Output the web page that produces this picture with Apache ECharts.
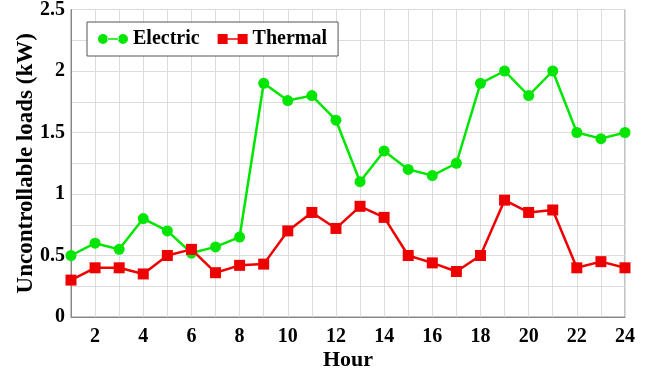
<!DOCTYPE html>
<html>
<head>
<meta charset="utf-8">
<script src="https://cdn.jsdelivr.net/npm/echarts@6/dist/echarts.min.js"></script>
<style>
html,body{margin:0;padding:0;background:#fff;}
#chart{width:659px;height:375px;}
</style>
</head>
<body>
<div id="chart"></div>
<script>
var hours=[1,2,3,4,5,6,7,8,9,10,11,12,13,14,15,16,17,18,19,20,21,22,23,24];
var electric=[0.5,0.6,0.55,0.8,0.7,0.52,0.57,0.65,1.9,1.76,1.8,1.6,1.1,1.35,1.2,1.15,1.25,1.9,2.0,1.8,2.0,1.5,1.45,1.5];
var thermal=[0.3,0.4,0.4,0.35,0.5,0.55,0.36,0.42,0.43,0.7,0.85,0.72,0.9,0.81,0.5,0.44,0.37,0.5,0.95,0.85,0.87,0.4,0.45,0.4];

var font="'Liberation Serif','Times New Roman',serif";
var green="#00e600";
var red="#ee0000";

// legend icons: marker - line - marker
var circIcon="path://M0,5a5,5 0 1,0 10,0a5,5 0 1,0 -10,0Z M9,4.2L21,4.2L21,5.8L9,5.8Z M20,5a5,5 0 1,0 10,0a5,5 0 1,0 -10,0Z";
var sqIcon="path://M0,0L10,0L10,10L0,10Z M9,4.2L21,4.2L21,5.8L9,5.8Z M20,0L30,0L30,10L20,10Z";

var chart=echarts.init(document.getElementById("chart"));
chart.setOption({
  animation:false,
  grid:{left:71,right:34,top:9.5,bottom:58,outerBoundsMode:"none",show:true,borderColor:"#888",borderWidth:1},
  legend:{
    left:87,top:22,
    padding:[7,11,7,11],
    borderColor:"#555",borderWidth:1,
    backgroundColor:"#fff",
    itemWidth:30,itemHeight:10,itemGap:18,
    textStyle:{fontFamily:font,fontWeight:"bold",fontSize:20,color:"#000"},
    data:[{name:"Electric",icon:circIcon},{name:"Thermal",icon:sqIcon}]
  },
  xAxis:{
    type:"value",min:1,max:24,interval:1,
    name:"Hour",nameLocation:"middle",nameGap:32,nameMoveOverlap:false,
    nameTextStyle:{fontFamily:font,fontWeight:"bold",fontSize:22,color:"#000"},
    axisLine:{lineStyle:{color:"#888"}},
    axisTick:{show:false},
    axisLabel:{
      fontFamily:font,fontWeight:"bold",fontSize:20,color:"#000",margin:10,
      formatter:function(v){return v%2===0?String(v):"";}
    },
    splitLine:{lineStyle:{color:"#dcdcdc"}}
  },
  yAxis:{
    type:"value",min:0,max:2.5,interval:0.25,
    name:"Uncontrollable loads (kW)",nameLocation:"middle",nameGap:33,nameMoveOverlap:false,
    nameTextStyle:{fontFamily:font,fontWeight:"bold",fontSize:23,color:"#000"},
    axisLine:{show:true,lineStyle:{color:"#888"}},
    axisTick:{show:false},
    axisLabel:{
      fontFamily:font,fontWeight:"bold",fontSize:20,color:"#000",margin:6,
      formatter:function(v){return Math.abs(v*2-Math.round(v*2))<1e-6?String(v):"";}
    },
    splitLine:{lineStyle:{color:"#dcdcdc"}}
  },
  series:[
    {
      name:"Electric",type:"line",
      data:hours.map(function(h,i){return [h,electric[i]];}),
      symbol:"circle",symbolSize:11,
      lineStyle:{color:green,width:2.5},
      itemStyle:{color:green}
    },
    {
      name:"Thermal",type:"line",
      data:hours.map(function(h,i){return [h,thermal[i]];}),
      symbol:"rect",symbolSize:11,
      lineStyle:{color:red,width:2.5},
      itemStyle:{color:red}
    }
  ]
});
</script>
</body>
</html>
